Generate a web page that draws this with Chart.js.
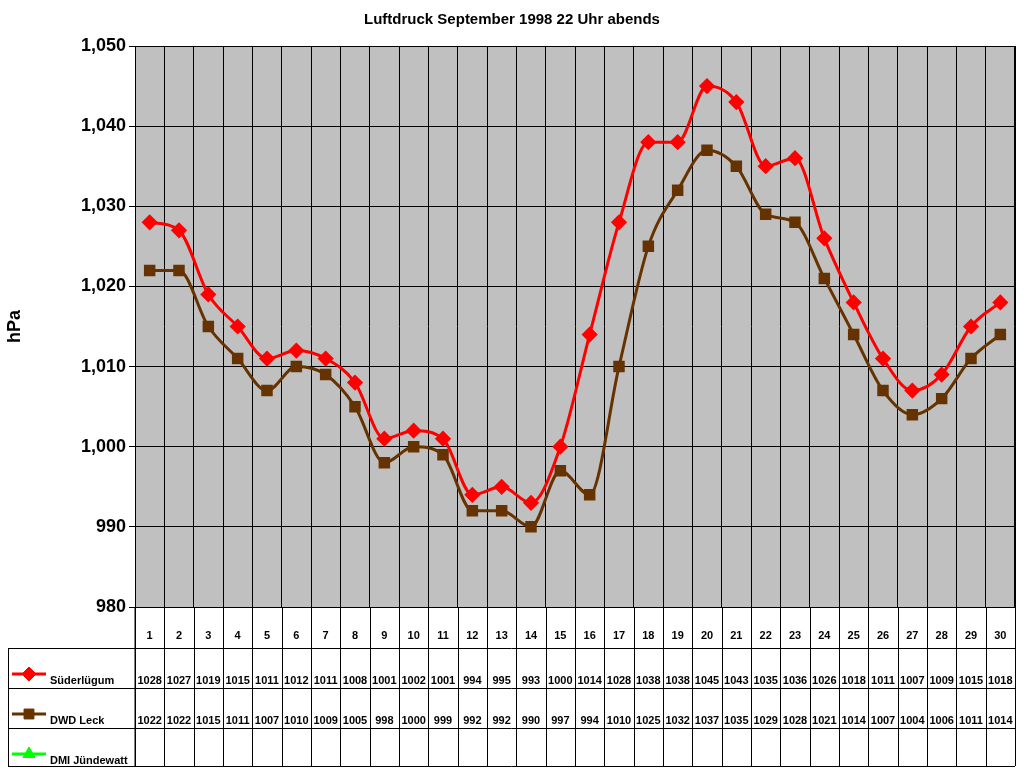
<!DOCTYPE html>
<html><head><meta charset="utf-8">
<script src="https://cdn.jsdelivr.net/npm/chart.js@4"></script>
<style>html,body{margin:0;padding:0;background:#fff}#c{display:block}</style>
</head><body>
<div style="width:1024px;height:768px"><canvas id="c"></canvas></div>
<script>
const days = Array.from({length:30},(_,i)=>String(i+1));
const suederluegum = [1028,1027,1019,1015,1011,1012,1011,1008,1001,1002,1001,994,995,993,1000,1014,1028,1038,1038,1045,1043,1035,1036,1026,1018,1011,1007,1009,1015,1018];
const dwdLeck = [1022,1022,1015,1011,1007,1010,1009,1005,998,1000,999,992,992,990,997,994,1010,1025,1032,1037,1035,1029,1028,1021,1014,1007,1004,1006,1011,1014];
const dmi = new Array(30).fill(null);
const seriesNames = ['Süderlügum','DWD Leck','DMI Jündewatt'];
const colors = ['#ff0000','#663300','#00ff00'];
const styles = ['rectRot','rect','triangle'];

const tablePlugin = {
  id:'tbl',
  beforeDraw(ch){
    const {ctx,chartArea:a}=ch;
    ctx.save();ctx.fillStyle='#c0c0c0';ctx.fillRect(a.left,a.top,a.right-a.left,a.bottom-a.top);ctx.restore();
  },
  afterDraw(ch){
    const {ctx,chartArea:a,scales:{x}}=ch;
    ctx.save();
    ctx.fillStyle='#000';ctx.font='bold 15px Arial, "Liberation Sans"';ctx.textAlign='center';ctx.textBaseline='middle';
    ctx.fillText('Luftdruck September 1998 22 Uhr abends',512,20);
    ctx.strokeStyle='#000';ctx.lineWidth=1;
    ctx.strokeRect(a.left+0.5,a.top+0.5,a.right-a.left,a.bottom-a.top);
    const rows=[a.bottom,648,688,728,766];
    const w=(a.right-a.left)/30;
    ctx.beginPath();
    for(let i=0;i<=30;i++){const xx=Math.round(a.left+i*w)+0.5;ctx.moveTo(xx,a.bottom);ctx.lineTo(xx,766);}
    ctx.moveTo(a.left,a.bottom);ctx.lineTo(a.left,766);
    for(let r=1;r<rows.length;r++){ctx.moveTo(8,rows[r]+0.5);ctx.lineTo(a.right,rows[r]+0.5);}
    ctx.moveTo(8.5,648);ctx.lineTo(8.5,766);
    ctx.stroke();
    ctx.font='bold 11px Arial, "Liberation Sans"';
    const data=[suederluegum,dwdLeck,dmi];
    for(let i=0;i<30;i++){
      const cx=x.getPixelForValue(i);
      ctx.fillText(days[i],cx,636);
      for(let s=0;s<3;s++){ if(data[s][i]!=null) ctx.fillText(String(data[s][i]),cx,rows[s+1]+33);}
    }
    for(let s=0;s<3;s++){
      const y=rows[s+1]+26;
      ctx.strokeStyle=colors[s];ctx.lineWidth=3;ctx.beginPath();ctx.moveTo(12,y);ctx.lineTo(46,y);ctx.stroke();
      ctx.fillStyle=colors[s];ctx.strokeStyle=colors[s];ctx.lineWidth=1;
      Chart.helpers.drawPoint(ctx,{pointStyle:styles[s],radius:7,rotation:0,borderWidth:1},29,y);
      ctx.fillStyle='#000';ctx.textAlign='left';ctx.fillText(seriesNames[s],50,rows[s+1]+33);ctx.textAlign='center';
    }
    ctx.restore();
  }
};

new Chart(document.getElementById('c'),{
  type:'line',
  data:{labels:days,datasets:[
    {label:seriesNames[0],data:suederluegum,borderColor:colors[0],backgroundColor:colors[0],borderWidth:3,pointStyle:'rectRot',pointRadius:6,tension:0.35,cubicInterpolationMode:'monotone'},
    {label:seriesNames[1],data:dwdLeck,borderColor:colors[1],backgroundColor:colors[1],borderWidth:3,pointStyle:'rect',pointRadius:6,cubicInterpolationMode:'monotone'},
    {label:seriesNames[2],data:dmi,borderColor:colors[2],backgroundColor:colors[2],borderWidth:3,pointStyle:'triangle',pointRadius:6}
  ]},
  options:{
    responsive:true,maintainAspectRatio:false,animation:false,
    layout:{padding:{top:46,bottom:161,right:4,left:0}},
    plugins:{legend:{display:false},tooltip:{enabled:false}},
    scales:{
      x:{offset:true,ticks:{display:false},grid:{offset:true,color:'#000',drawTicks:false},border:{display:false}},
      y:{min:980,max:1050,ticks:{stepSize:10,color:'#000',font:{family:'Arial, "Liberation Sans"',size:18,weight:'bold'}},
         grid:{color:'#000',tickLength:6,tickColor:'#000'},border:{color:'#000'},
         title:{display:true,text:'hPa',color:'#000',font:{family:'Arial, "Liberation Sans"',size:18,weight:'bold'}},
         afterFit(s){s.width=135;}}
    }
  },
  plugins:[tablePlugin]
});
</script></body></html>
